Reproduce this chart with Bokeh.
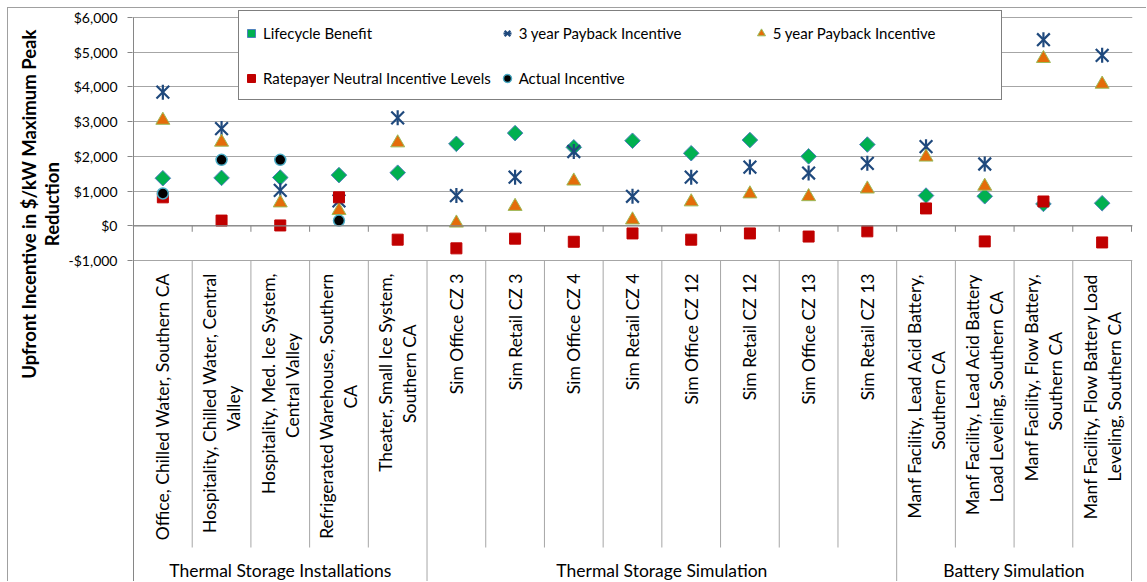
import numpy as np
from bokeh.plotting import figure
from bokeh.layouts import row
from bokeh.models import Range1d, FixedTicker, Legend, LegendItem, Span
from bokeh.core.properties import value
from bokeh.embed import file_html
from bokeh.resources import INLINE

# ---------------- data ----------------
categories = [
    "Office, Chilled Water, Southern CA",
    "Hospitality, Chilled Water, Central\nValley",
    "Hospitality, Med. Ice System,\nCentral Valley",
    "Refrigerated Warehouse, Southern\nCA",
    "Theater, Small Ice System,\nSouthern CA",
    "Sim Office CZ 3",
    "Sim Retail CZ 3",
    "Sim Office CZ 4",
    "Sim Retail CZ 4",
    "Sim Office CZ 12",
    "Sim Retail CZ 12",
    "Sim Office CZ 13",
    "Sim Retail CZ 13",
    "Manf Facility, Lead Acid Battery,\nSouthern CA",
    "Manf Facility, Lead Acid Battery\nLoad Leveling, Southern CA",
    "Manf Facility, Flow Battery,\nSouthern CA",
    "Manf Facility, Flow Battery Load\nLeveling, Southern CA",
]
groups = ["Thermal Storage Installations", "Thermal Storage Simulation", "Battery Simulation"]
group_sizes = [5, 8, 4]

lifecycle_benefit = [1370, 1380, 1390, 1460, 1530, 2360, 2670, 2260, 2450, 2090, 2470, 2000, 2340, 870, 850, 630, 650]
payback_3yr = [3850, 2800, 1020, 720, 3110, 870, 1400, 2140, 850, 1400, 1690, 1520, 1800, 2280, 1780, 5360, 4910]
payback_5yr = [3040, 2410, 660, 440, 2390, 80, 560, 1290, 170, 690, 920, 840, 1060, 1980, 1140, 4820, 4080]
ratepayer_neutral = [820, 150, 10, 820, -400, -650, -370, -460, -220, -400, -220, -310, -160, 500, -450, 700, -480]
actual_incentive = [930, 1900, 1900, 150]   # only the first four installations

y_ticks = [-1000, 0, 1000, 2000, 3000, 4000, 5000, 6000]
y_tick_labels = ["-$1,000", "$0", "$1,000", "$2,000", "$3,000", "$4,000", "$5,000", "$6,000"]
y_title_lines = ["Upfront Incentive in $/kW Maximum Peak", "Reduction"]

# ---------------- layout constants (page pixels) ----------------
FONT = "Lato"
ORG = 8                      # content origin (after 7px margin + 1px border)
H = 573
TW = 56                      # width of y-title strip
W = 1082                     # main figure width
ML, MR, MT, MB = 68, 14, 1, 0
FRAME_W = W - ML - MR        # 1000
FRAME_H = H - MT - MB
FRAME_LEFT_PAGE = ORG + TW + ML
FRAME_TOP_PAGE = ORG + MT
Y6000_PAGE = 17
PPU = 243.0 / 7000.0         # pixels per data unit (y)
Y_END = 6000 + (Y6000_PAGE - FRAME_TOP_PAGE) / PPU
Y_START = Y_END - FRAME_H / PPU


def y_at(page_y):
    """data y value at a page pixel row"""
    return 6000 - (page_y - Y6000_PAGE) / PPU


n = len(categories)
xs = np.arange(n)
XPU = FRAME_W / (n + 2 / 58.7)
X_START = -0.5 - 1 / XPU
X_END = n - 0.5 + 1 / XPU

p = figure(width=W, height=H, x_range=Range1d(X_START, X_END), y_range=Range1d(Y_START, Y_END),
           output_backend="svg", toolbar_location=None, x_axis_location=None,
           min_border_left=ML, min_border_right=MR, min_border_top=MT, min_border_bottom=MB)
p.outline_line_color = None
p.background_fill_color = "white"
p.border_fill_color = "white"
p.xgrid.visible = False
p.ygrid.ticker = FixedTicker(ticks=y_ticks)
p.ygrid.grid_line_color = "#a6a6a6"
p.ygrid.grid_line_width = 1

ax = p.yaxis[0]
ax.ticker = FixedTicker(ticks=y_ticks)
ax.major_label_overrides = dict(zip(y_ticks, y_tick_labels))
ax.axis_line_color = None
ax.major_tick_line_color = "#868686"
ax.major_tick_out = 5
ax.major_tick_in = 0
ax.minor_tick_line_color = None
ax.major_label_standoff = 10
ax.major_label_text_font = FONT
ax.major_label_text_font_size = "14px"
ax.major_label_text_color = "#000000"

# value axis line (running down through the label area) and zero axis
p.segment(x0=[-0.5], y0=[6000], x1=[-0.5], y1=[Y_START], line_color="#868686", line_width=1)
p.add_layout(Span(location=0, dimension="width", line_color="#868686", line_width=1.3))
bounds = np.arange(n + 1) - 0.5
p.segment(x0=bounds, y0=np.zeros(n + 1), x1=bounds, y1=np.full(n + 1, -6 / PPU),
          line_color="#868686", line_width=1)

# label area separators
gb = np.concatenate([[0], np.cumsum(group_sizes)]) - 0.5
inner = [b for b in bounds if b not in set(gb)]
p.segment(x0=inner, y0=[-1000] * len(inner), x1=inner, y1=[y_at(547)] * len(inner),
          line_color="#a6a6a6", line_width=1)
p.segment(x0=gb[1:], y0=[-1000] * (len(gb) - 1), x1=gb[1:], y1=[Y_START] * (len(gb) - 1),
          line_color="#a6a6a6", line_width=1)

# ---------------- series ----------------
r_life = p.scatter(xs, lifecycle_benefit, marker="square", angle=np.pi / 4, size=11,
                   fill_color="#00B050", line_color="#4F81BD", line_width=1)
r_p3x = p.scatter(xs, payback_3yr, marker="x", size=18, line_color="#1F497D", line_width=2.2)
r_p3d = p.scatter(xs, payback_3yr, marker="dash", angle=np.pi / 2, size=15,
                  line_color="#1F497D", line_width=2.2)
r_p5 = p.scatter(xs, payback_5yr, marker="triangle", size=14,
                 fill_color="#E46C0A", line_color="#9BBB59", line_width=1)
r_rate = p.scatter(xs, ratepayer_neutral, marker="square", size=11,
                   fill_color="#C00000", line_color="#C00000", line_width=1)
r_act = p.scatter(xs[:len(actual_incentive)], actual_incentive, marker="circle", size=11,
                  fill_color="#000000", line_color="#4BACC6", line_width=1.5)

# ---------------- legend ----------------
items = [
    LegendItem(label="Lifecycle Benefit", renderers=[r_life]),
    LegendItem(label="3 year Payback Incentive", renderers=[r_p3x, r_p3d]),
    LegendItem(label="5 year Payback Incentive", renderers=[r_p5]),
    LegendItem(label="Ratepayer Neutral Incentive Levels", renderers=[r_rate]),
    LegendItem(label="Actual Incentive", renderers=[r_act]),
]
LEG_LEFT, LEG_TOP, LEG_H = 238, 12, 88
legend = Legend(items=items,
                location=(LEG_LEFT - FRAME_LEFT_PAGE, (ORG + H) - (LEG_TOP + LEG_H)),
                orientation="horizontal", ncols=3,
                padding=2, spacing=6, glyph_width=20, glyph_height=20, label_standoff=2,
                label_width=226, label_height=39,
                label_text_font=FONT, label_text_font_size="15px", label_text_color="#000000",
                border_line_color="#000000", border_line_width=1,
                background_fill_color="white", background_fill_alpha=1.0)
p.add_layout(legend)

# ---------------- category labels ----------------
LINE_PITCH = 24
CW = 7.7
TOP_PAGE = 273
rx, ry, rt, cx, cy, ct = [], [], [], [], [], []
for i, cat in enumerate(categories):
    lines = cat.split("\n")
    k = len(lines)
    li = max(range(k), key=lambda j: len(lines[j]))
    for j, line in enumerate(lines):
        xx = i + (j - (k - 1) / 2) * LINE_PITCH / XPU
        if j == li:
            rx.append(xx); ry.append(y_at(TOP_PAGE)); rt.append(line)
        else:
            cx.append(xx); cy.append(y_at(TOP_PAGE + len(lines[li]) * CW / 2)); ct.append(line)

p.text(x=rx, y=ry, text=rt, angle=np.pi / 2, text_align="right", text_baseline="middle",
       text_font=value(FONT), text_font_size="17.5px", text_color="#000000")
p.text(x=cx, y=cy, text=ct, angle=np.pi / 2, text_align="center", text_baseline="middle",
       text_font=value(FONT), text_font_size="17.5px", text_color="#000000")

gcent = [(gb[g] + gb[g + 1]) / 2 for g in range(len(groups))]
p.text(x=gcent, y=[y_at(570)] * len(groups), text=groups, text_align="center",
       text_baseline="middle", text_font=value(FONT), text_font_size="17.5px", text_color="#000000")

# ---------------- y title strip ----------------
t = figure(width=TW, height=H, x_range=Range1d(0, TW), y_range=Range1d(0, H),
           output_backend="svg", toolbar_location=None, x_axis_location=None,
           y_axis_location=None, min_border=0)
t.min_border_left = t.min_border_right = t.min_border_top = t.min_border_bottom = 0
t.outline_line_color = None
t.xgrid.visible = False
t.ygrid.visible = False
t.background_fill_color = "white"
t.border_fill_color = "white"
title_x_page = [28, 51]
title_y_page = [203, 203]
t.text(x=[xp - ORG for xp in title_x_page], y=[H - (yp - ORG) for yp in title_y_page],
       text=y_title_lines, angle=np.pi / 2, text_align="center", text_baseline="middle",
       text_font=value(FONT), text_font_style="bold", text_font_size="18.5px", text_color="#000000")

layout = row(t, p, spacing=0)
layout.styles = {"margin-left": "7px", "margin-top": "7px",
                 "border-left": "1px solid #a0a0a0", "border-top": "1px solid #a0a0a0"}

open("out.html", "w").write(file_html(layout, INLINE))
